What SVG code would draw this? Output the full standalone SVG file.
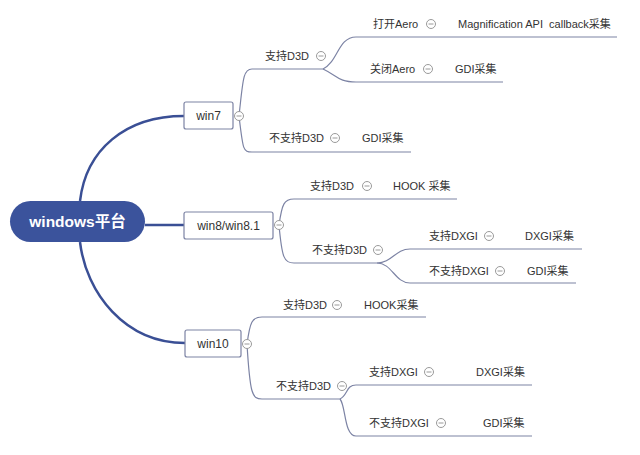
<svg xmlns="http://www.w3.org/2000/svg" width="640" height="455" viewBox="0 0 640 455">
<style>
text{font-family:"Liberation Sans","Noto Sans CJK SC",sans-serif;fill:#333;}
.t{font-size:11px;}
.n{font-size:12px;text-anchor:middle;}
.main{fill:none;stroke:#3a4f95;stroke-width:2.5;}
.br{fill:none;stroke:#7c83a4;stroke-width:1.2;}
.box{fill:#fff;stroke:#7c83a4;stroke-width:1.2;}
.c{fill:#fff;stroke:#9a9a9a;stroke-width:1;}
</style>
<defs>
<g id="col"><circle class="c" r="4.5"/><line x1="-2.5" y1="0" x2="2.5" y2="0" stroke="#9a9a9a" stroke-width="1"/></g>
</defs>
<rect width="640" height="455" fill="#fff"/>
<g id="connectors">
<path class="main" d="M80 201 C86 150 125 116 184 116"/>
<path class="main" d="M80 242 C86 293 125 343 185 343"/>
<path class="main" d="M145 225 L184 225"/>
<path class="br" d="M239 116 C243 80 243 69 252 69 L323 69"/>
<path class="br" d="M323 69 C338 62 338 37 356 37 L617 37"/>
<path class="br" d="M323 69 C338 76 338 82 356 82 L503 82"/>
<path class="br" d="M239 116 C243 150 243 152 252 152 L411 152"/>
<path class="br" d="M279 225 C282 204 284 199 294 199 L457 199"/>
<path class="br" d="M279 225 C282 258 284 263 294 263 L377 263"/>
<path class="br" d="M377 263 C392 263 395 249 410 249 L582 249"/>
<path class="br" d="M377 263 C392 263 395 283 410 283 L576 283"/>
<path class="br" d="M247 344 C250 322 252 317 262 317 L426 317"/>
<path class="br" d="M247 344 C250 394 252 399 262 399 L340 399"/>
<path class="br" d="M340 399 C348 395 346 385 356 385 L532 385"/>
<path class="br" d="M340 399 C346 406 344 436 356 436 L532 436"/>
</g>
<g id="root">
<rect x="10" y="201" width="135" height="41" rx="20.5" fill="#3b539c"/>
<text x="77.5" y="227" text-anchor="middle" style="font-size:15.5px;font-weight:bold;fill:#fff">windows平台</text>
</g>
<g id="win7">
<rect class="box" x="184" y="102" width="49" height="27" rx="2"/>
<text class="n" x="208.5" y="120">win7</text>
<use href="#col" x="239" y="116"/>
</g>
<g id="win8">
<rect class="box" x="184" y="212" width="89" height="27" rx="2"/>
<text class="n" x="228.5" y="230">win8/win8.1</text>
<use href="#col" x="279" y="225"/>
</g>
<g id="win10">
<rect class="box" x="185" y="330" width="56" height="27" rx="2"/>
<text class="n" x="213" y="348">win10</text>
<use href="#col" x="247" y="344"/>
</g>
<g id="w7-d3d"><text class="t" x="265" y="60">支持D3D</text><use href="#col" x="321" y="56"/></g>
<g id="w7-aero-on"><text class="t" x="373" y="28">打开Aero</text><use href="#col" x="431" y="24"/></g>
<g id="w7-mag"><text class="t" x="458" y="28">Magnification API&#160; callback采集</text></g>
<g id="w7-aero-off"><text class="t" x="370" y="73">关闭Aero</text><use href="#col" x="428" y="69"/></g>
<g id="w7-gdi1"><text class="t" x="455" y="73">GDI采集</text></g>
<g id="w7-nod3d"><text class="t" x="269" y="142">不支持D3D</text><use href="#col" x="335" y="138"/></g>
<g id="w7-gdi2"><text class="t" x="362" y="142">GDI采集</text></g>
<g id="w8-d3d"><text class="t" x="310" y="190">支持D3D</text><use href="#col" x="367" y="186"/></g>
<g id="w8-hook"><text class="t" x="393" y="190">HOOK 采集</text></g>
<g id="w8-nod3d"><text class="t" x="312" y="254">不支持D3D</text><use href="#col" x="378" y="250"/></g>
<g id="w8-dxgi"><text class="t" x="429" y="240">支持DXGI</text><use href="#col" x="489" y="236"/></g>
<g id="w8-dxgicap"><text class="t" x="525" y="240">DXGI采集</text></g>
<g id="w8-nodxgi"><text class="t" x="429" y="275">不支持DXGI</text><use href="#col" x="500" y="271"/></g>
<g id="w8-gdi"><text class="t" x="527" y="275">GDI采集</text></g>
<g id="w10-d3d"><text class="t" x="283" y="309">支持D3D</text><use href="#col" x="337" y="305"/></g>
<g id="w10-hook"><text class="t" x="364" y="309">HOOK采集</text></g>
<g id="w10-nod3d"><text class="t" x="276" y="390">不支持D3D</text><use href="#col" x="342" y="386"/></g>
<g id="w10-dxgi"><text class="t" x="369" y="376">支持DXGI</text><use href="#col" x="429" y="372"/></g>
<g id="w10-dxgicap"><text class="t" x="476" y="376">DXGI采集</text></g>
<g id="w10-nodxgi"><text class="t" x="369" y="427">不支持DXGI</text><use href="#col" x="441" y="423"/></g>
<g id="w10-gdi"><text class="t" x="483" y="427">GDI采集</text></g>
</svg>
